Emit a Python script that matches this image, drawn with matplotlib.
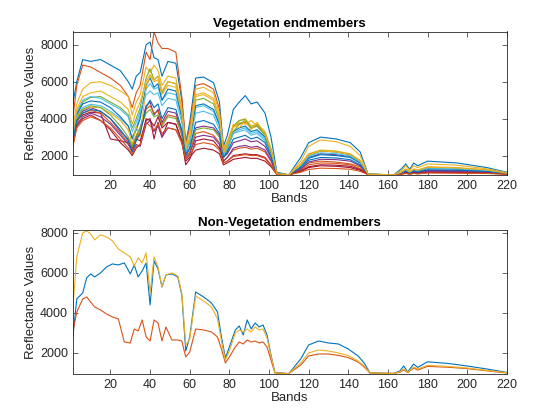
import matplotlib
matplotlib.use("Agg")
import matplotlib.pyplot as plt

# MATLAB default line colours
colors = ['#0072BD', '#D95319', '#EDB120', '#7E2F8E', '#77AC30', '#4DBEEE', '#A2142F']

veg_bands = [1, 3, 6, 10, 15, 20, 25, 29, 31, 33,
             35, 38, 40, 42, 44, 46, 49, 53, 56, 58,
             60, 63, 67, 72, 75, 77, 79, 82, 85, 88,
             91, 94, 98, 101, 104, 110, 116, 120, 126, 134,
             141, 146, 150, 163, 167, 169, 171, 173, 175, 180,
             195, 210, 220]

veg_01 = [4800, 6000, 7200, 7100, 7200, 6900, 6600, 6000, 5600, 6300,
          6500, 8000, 8150, 7300, 7200, 6300, 7100, 7000, 5000, 2700,
          3800, 6200, 6250, 5950, 4900, 2500, 3100, 4500, 4900, 5250,
          4800, 4900, 4300, 3000, 1100, 960, 1900, 2700, 3000, 2900,
          2700, 2200, 1000, 960, 1300, 1550, 1250, 1600, 1450, 1700,
          1600, 1350, 1100]
veg_02 = [4000, 5800, 6900, 6800, 6500, 6200, 5800, 5200, 4600, 5400,
          5800, 7600, 7200, 8700, 8100, 7800, 7800, 7600, 5200, 2600,
          3500, 5800, 5900, 5600, 4500, 2300, 2700, 3600, 3700, 3800,
          3500, 3600, 3200, 2300, 1050, 960, 1300, 1600, 1700, 1650,
          1550, 1400, 980, 960, 1050, 1150, 1050, 1150, 1100, 1200,
          1180, 1120, 1030]
veg_03 = [3500, 4800, 5600, 5950, 6000, 5800, 5500, 5200, 4200, 4900,
          5300, 6800, 6500, 6900, 6600, 5800, 6300, 6200, 4600, 2500,
          3300, 5600, 5700, 5400, 4300, 2400, 2800, 3600, 3900, 4000,
          3600, 3700, 3300, 2400, 1050, 960, 1700, 2500, 2850, 2750,
          2500, 2000, 1000, 960, 1200, 1450, 1200, 1450, 1350, 1550,
          1480, 1280, 1080]
veg_04 = [2800, 4000, 4400, 4600, 4400, 4000, 3300, 2900, 2500, 3000,
          3500, 4700, 4900, 4200, 4500, 3800, 4400, 4300, 3300, 2100,
          2400, 3500, 3600, 3500, 3100, 1900, 2100, 2700, 2800, 2900,
          2750, 2800, 2500, 1900, 1000, 960, 1400, 1900, 2100, 2050,
          1950, 1600, 980, 960, 1050, 1150, 1050, 1150, 1100, 1200,
          1180, 1120, 1030]
veg_05 = [3000, 4300, 4900, 5150, 5200, 4900, 4600, 4200, 3500, 4000,
          4600, 6200, 6700, 6100, 6300, 5400, 6000, 5900, 4300, 2300,
          2900, 5000, 5100, 4800, 3900, 2100, 2600, 3600, 3900, 3950,
          3500, 3700, 3200, 2300, 1020, 960, 1450, 2000, 2250, 2200,
          2050, 1700, 990, 960, 1100, 1250, 1100, 1250, 1200, 1350,
          1320, 1220, 1050]
veg_06 = [2900, 4100, 4600, 4780, 4700, 4400, 4000, 3600, 3000, 3500,
          4200, 5600, 5900, 5600, 5700, 5000, 5400, 5300, 4000, 2200,
          2800, 4600, 4700, 4400, 3600, 2000, 2400, 3200, 3400, 3500,
          3200, 3300, 2900, 2100, 1000, 960, 1500, 2000, 2250, 2200,
          2050, 1700, 990, 960, 1100, 1250, 1100, 1250, 1200, 1350,
          1300, 1200, 1050]
veg_07 = [2600, 3900, 4200, 4350, 4300, 2900, 2800, 2700, 2400, 2900,
          2800, 3900, 4000, 2900, 3800, 3000, 3800, 3700, 2800, 1700,
          1900, 2300, 2400, 2300, 2100, 1500, 1600, 1800, 1850, 1900,
          1850, 1850, 1700, 1400, 980, 960, 1150, 1350, 1450, 1420,
          1350, 1200, 970, 960, 1000, 1050, 1000, 1050, 1020, 1080,
          1070, 1040, 1000]
veg_08 = [2900, 4200, 4800, 4960, 4900, 4600, 4100, 3600, 2900, 3400,
          4000, 5800, 6200, 5700, 5900, 5000, 5600, 5500, 4100, 2200,
          2700, 4700, 4800, 4500, 3700, 2000, 2400, 3300, 3500, 3600,
          3300, 3400, 3000, 2100, 1000, 960, 1400, 1850, 2050, 2000,
          1900, 1600, 985, 960, 1080, 1200, 1080, 1200, 1150, 1300,
          1270, 1180, 1040]
veg_09 = [2700, 3800, 4300, 4450, 4300, 3800, 3200, 2700, 2300, 2900,
          3300, 4500, 4700, 4300, 4400, 3700, 4200, 4100, 3100, 1900,
          2200, 3200, 3300, 3100, 2700, 1700, 1900, 2300, 2400, 2450,
          2350, 2400, 2200, 1700, 990, 960, 1200, 1500, 1600, 1580,
          1500, 1300, 975, 960, 1020, 1080, 1020, 1080, 1050, 1120,
          1110, 1070, 1010]
veg_10 = [2800, 4100, 4500, 4620, 4600, 4300, 3900, 3400, 2600, 3600,
          3000, 5700, 6300, 6000, 6100, 5300, 5800, 5700, 4300, 2300,
          2900, 5200, 5300, 5000, 4000, 2100, 2500, 3500, 3800, 3700,
          3900, 3600, 3100, 2200, 1000, 960, 1550, 2100, 2300, 2250,
          2100, 1750, 990, 960, 1120, 1280, 1120, 1280, 1220, 1400,
          1350, 1230, 1050]
veg_11 = [2600, 3700, 4100, 4300, 4100, 3700, 3100, 2600, 2200, 2600,
          2500, 3700, 3900, 3300, 3600, 3000, 3500, 3400, 2700, 1800,
          2100, 3000, 3100, 3000, 2600, 1700, 1900, 2400, 2500, 2550,
          2450, 2500, 2300, 1750, 990, 960, 1250, 1650, 1800, 1780,
          1700, 1450, 975, 960, 1030, 1100, 1030, 1100, 1070, 1150,
          1140, 1090, 1015]
veg_12 = [2800, 4000, 4500, 4700, 4600, 4200, 3600, 3000, 2500, 3100,
          3500, 4300, 4500, 4100, 4200, 3600, 4100, 4000, 3200, 2000,
          2400, 3400, 3500, 3400, 3000, 1900, 2300, 3300, 3700, 3900,
          3500, 3600, 3100, 2200, 1000, 960, 1500, 2050, 2250, 2200,
          2050, 1700, 990, 960, 1100, 1240, 1100, 1240, 1190, 1330,
          1300, 1200, 1045]
veg_13 = [3100, 4400, 5000, 5200, 5100, 4800, 4500, 4100, 3300, 3800,
          4400, 5300, 5500, 5300, 5400, 4700, 5100, 5000, 3800, 2200,
          2700, 4300, 4400, 4200, 3400, 2000, 2400, 3200, 3300, 3400,
          3100, 3200, 2800, 2000, 1000, 960, 1450, 1950, 2150, 2100,
          1980, 1650, 985, 960, 1090, 1230, 1090, 1230, 1180, 1320,
          1290, 1190, 1045]
veg_14 = [2500, 3600, 4000, 4200, 3900, 3400, 2700, 2300, 2000, 2400,
          2600, 4000, 3900, 3600, 4100, 3500, 3800, 3700, 2800, 1500,
          1800, 2800, 2900, 2800, 2400, 1600, 1700, 2000, 2050, 2100,
          2050, 2050, 1900, 1500, 985, 960, 1150, 1400, 1500, 1480,
          1420, 1250, 970, 960, 1010, 1060, 1010, 1060, 1030, 1090,
          1080, 1050, 1005]
veg_15 = [2700, 3900, 4300, 4500, 4400, 4000, 3400, 2800, 2200, 2800,
          3200, 4600, 5000, 4600, 4800, 4000, 4600, 4500, 3400, 2000,
          2400, 3800, 3900, 3700, 3200, 1900, 2200, 2900, 3000, 3100,
          2900, 3000, 2700, 1950, 995, 960, 1350, 1750, 1900, 1870,
          1780, 1500, 980, 960, 1060, 1160, 1060, 1160, 1120, 1230,
          1210, 1140, 1030]
veg_16 = [2500, 3500, 3900, 4100, 3900, 3500, 2900, 2400, 2100, 2500,
          2600, 3800, 3600, 3400, 3700, 3200, 3500, 3400, 2700, 1800,
          2000, 2600, 2700, 2600, 2300, 1600, 1700, 1950, 2000, 2050,
          2000, 2000, 1850, 1450, 980, 960, 1100, 1250, 1320, 1300,
          1260, 1150, 970, 960, 1000, 1030, 1000, 1030, 1010, 1060,
          1050, 1030, 1000]
veg_17 = [3200, 4500, 5200, 5400, 5500, 5200, 4900, 4500, 3700, 4400,
          4900, 6000, 6400, 6100, 6300, 5500, 6000, 5900, 4400, 2400,
          3000, 5300, 5400, 5100, 4100, 2200, 2700, 3700, 3500, 3900,
          3400, 3800, 3200, 2300, 1020, 960, 1500, 2050, 2250, 2200,
          2060, 1720, 990, 960, 1110, 1260, 1110, 1260, 1200, 1370,
          1330, 1220, 1050]

veg_series = [veg_01, veg_02, veg_03, veg_04, veg_05, veg_06, veg_07, veg_08, veg_09,
              veg_10, veg_11, veg_12, veg_13, veg_14, veg_15, veg_16, veg_17]

nonveg_bands = [1, 3, 6, 8, 10, 12, 15, 18, 21, 24,
                27, 30, 32, 34, 36, 38, 40, 42, 44, 46,
                48, 51, 54, 56, 58, 60, 63, 67, 71, 74,
                76, 78, 80, 83, 85, 87, 89, 91, 93, 95,
                97, 99, 101, 103, 110, 116, 120, 125, 130, 135,
                140, 145, 148, 151, 163, 166, 168, 170, 173, 175,
                180, 190, 200, 210, 220]

nonveg_1 = [2750, 4700, 5000, 5750, 5950, 5800, 6000, 6300, 6450, 6400,
            6500, 5950, 6400, 5800, 6100, 6500, 4400, 6600, 6200, 5300,
            5900, 5950, 5800, 4900, 2100, 2800, 5050, 4800, 4500, 4050,
            2800, 1750, 2300, 3150, 3350, 2900, 3650, 3200, 3500, 3300,
            3400, 2900, 1900, 1020, 970, 1700, 2400, 2600, 2500, 2450,
            2200, 1850, 1500, 1000, 980, 1100, 1350, 1050, 1450, 1280,
            1560, 1480, 1350, 1200, 1030]
nonveg_2 = [3050, 4050, 4700, 4800, 4550, 4300, 4150, 3950, 3800, 3700,
            2550, 2500, 3200, 3100, 3650, 2800, 2600, 3650, 3500, 2600,
            3300, 2650, 2650, 2600, 1800, 2050, 3200, 3150, 3050, 2800,
            2200, 1500, 1800, 2300, 2550, 2450, 2650, 2550, 2600, 2500,
            2550, 2300, 1650, 1000, 970, 1400, 1850, 1950, 1950, 1880,
            1770, 1550, 1300, 990, 980, 1040, 1150, 1020, 1250, 1150,
            1330, 1290, 1220, 1110, 1000]
nonveg_3 = [4250, 6800, 8000, 8100, 7950, 7650, 7900, 7800, 7600, 7200,
            7000, 6800, 6350, 6750, 6500, 7000, 5000, 6800, 6300, 5300,
            5900, 6000, 5850, 5000, 2400, 2700, 4850, 4600, 4300, 3700,
            2600, 1650, 2100, 3000, 3150, 3050, 3200, 3050, 3300, 3150,
            3200, 2750, 1850, 1010, 970, 1500, 2000, 2150, 2100, 2000,
            1870, 1600, 1350, 1000, 980, 1050, 1200, 1030, 1300, 1200,
            1380, 1330, 1250, 1130, 1010]

nonveg_series = [nonveg_1, nonveg_2, nonveg_3]


def style_axes(ax, title, ylim):
    ax.set_xlim(1, 220)
    ax.set_ylim(*ylim)
    ax.set_xticks(range(20, 221, 20))
    ax.set_yticks([2000, 4000, 6000, 8000])
    ax.tick_params(direction='in', top=True, right=True, length=3.5, width=0.5,
                   labelsize=9, colors='#262626')
    for s in ax.spines.values():
        s.set_linewidth(0.6)
        s.set_color('#262626')
    ax.set_title(title, fontsize=9.5, fontweight='bold', pad=3)
    ax.set_xlabel('Bands', fontsize=9.5, labelpad=1, color='#262626')
    ax.set_ylabel('Reflectance Values', fontsize=9.5, labelpad=2, color='#262626')


plt.rcParams['font.family'] = ['Liberation Sans', 'DejaVu Sans']

fig = plt.figure(figsize=(5.6, 4.2), dpi=100)
ax1 = fig.add_axes([0.13, 0.5838, 0.775, 0.3412])
ax2 = fig.add_axes([0.13, 0.11, 0.775, 0.3412])

for i, vals in enumerate(veg_series):
    ax1.plot(veg_bands, vals, color=colors[i % 7], lw=0.8)
style_axes(ax1, 'Vegetation endmembers', (960, 8720))

for i, vals in enumerate(nonveg_series):
    ax2.plot(nonveg_bands, vals, color=colors[i % 7], lw=0.8)
style_axes(ax2, 'Non-Vegetation endmembers', (960, 8120))

fig.savefig('out.png', dpi=100)
